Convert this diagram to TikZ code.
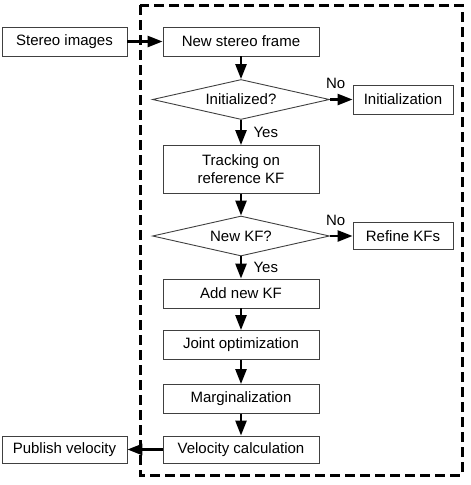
\documentclass[tikz,border=0pt]{standalone}
\usepackage{fontspec}
\setmainfont{Liberation Sans}
\usetikzlibrary{arrows.meta,shapes.geometric}

\begin{document}
\begin{tikzpicture}[x=1pt,y=-1pt,->,>={Triangle[length=15pt,width=11pt]},line width=2.5pt,
                    node distance=58pt]
\tikzstyle{every node}=[font=\fontsize{15}{18}\selectfont]
\tikzstyle{box}=[draw=black!75,line width=0.9pt,minimum width=156pt,minimum height=29pt,inner sep=2pt,align=center]
\tikzstyle{side}=[box,minimum width=100pt]
\tikzstyle{test}=[diamond,draw=black!75,line width=0.9pt,aspect=4.4,minimum width=177pt,minimum height=40pt,inner sep=0pt]
\useasboundingbox (0,0) rectangle (471,485);
\draw [-,line width=3pt,dash pattern=on 10pt off 5pt] (140,5) rectangle (462,475);
\node [box] (1) at (241,41.5) {New stereo frame};
\node [box,minimum width=125pt] [left of=1, node distance=176.5pt] (0) {Stereo images};
\node [test] [below of=1] (2) {Initialized?};
\node [side] [right of=2, node distance=162pt] (3) {Initialization};
\node [box,minimum height=48pt] [below of=2, node distance=70pt] (4) {Tracking on\\reference KF};
\node [test] [below of=4, node distance=66.5pt] (5) {New KF?};
\node [side,minimum height=27pt] [right of=5, node distance=162pt] (6) {Refine KFs};
\node [box] [below of=5, node distance=57.5pt] (7) {Add new KF};
\node [box] [below of=7, node distance=51.5pt] (8) {Joint optimization};
\node [box] [below of=8, node distance=54pt] (9) {Marginalization};
\node [box,minimum height=27pt] [below of=9, node distance=50.5pt] (10) {Velocity calculation};
\node [box,minimum width=125pt,minimum height=27pt] [left of=10, node distance=176.5pt] (11) {Publish velocity};

\path (0) edge (1)
      (1) edge (2)
      (2) edge node [above,pos=0.25,yshift=6pt] {No} (3)
      (2) edge node [right,xshift=8pt] {Yes} (4)
      (4) edge (5)
      (5) edge node [above,pos=0.25,yshift=6pt] {No} (6)
      (5) edge node [right,xshift=8pt] {Yes} (7)
      (7) edge (8)
      (8) edge (9)
      (9) edge (10)
      (10) edge (11);
\end{tikzpicture}
\end{document}
